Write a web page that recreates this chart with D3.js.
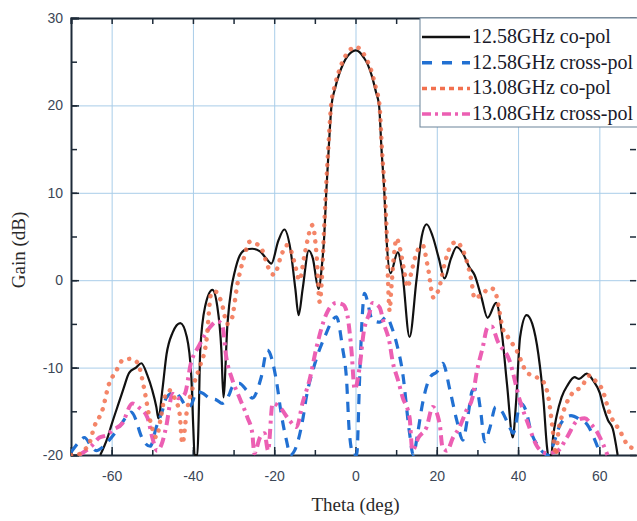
<!DOCTYPE html>
<html>
<head>
<meta charset="utf-8">
<script src="https://cdn.jsdelivr.net/npm/d3@7"></script>
<style>
  html, body { margin: 0; padding: 0; background: #fff; overflow: hidden; }
  svg { display: block; }
</style>
</head>
<body>
<svg id="chart" width="637" height="521"></svg>
<script>
// 12.58GHz co-pol (black solid)
const co1258Theta = [-62.8, -61, -60, -58, -57, -55.7, -54, -52.7, -51.2, -50, -49, -48.5, -47.5, -46.5, -45, -43.1, -41.5, -40.4, -39.9, -39.6,
  -38.9, -38.6, -38.2, -37, -35.2, -34, -33, -32.5, -31.5, -30.5, -29.8, -28.5, -27, -25.4, -23.5, -22, -20.7, -19, -17.5, -16,
  -14.8, -14, -13, -11.5, -10.5, -9.1, -8.3, -7.7, -7.2, -6.6, -5.9, -5, -4, -3, -2, -1, 0, 1, 2, 3,
  4, 5, 5.8, 6.4, 7.1, 7.6, 8.6, 10.4, 11.5, 13.3, 15, 16.3, 17.5, 19, 20.5, 21.9, 23.5, 24.9, 26.5, 28, 29.3,
  31, 32.5, 34.6, 36, 37.3, 38.7, 39.5, 40.5, 42.1, 43.5, 45, 46.3, 47.1, 47.4, 48.2, 48.6, 49.5, 50.7, 52.2, 53.9,
  55, 56.9, 58.5, 60.1, 61, 62.1, 63.3, 64.5];
const co1258Gain = [-20, -18, -16.5, -13.7, -12.3, -10.6, -10, -9.5, -10.9, -12.6, -14.5, -15.8, -12.5, -8.5, -6, -4.9, -6.5, -11, -17, -20,
  -20, -16, -8, -3, -1.1, -3, -8, -13.4, -5, -0.8, 0.8, 2.8, 3.5, 3.6, 3.3, 2.5, 1.9, 4.5, 5.8, 3.5,
  -1, -4, -1, 3.4, 2.5, -1, 1.5, 5, 10, 15, 20, 22, 23.6, 24.8, 25.6, 26.1, 26.3, 26.1, 25.5, 24.7,
  23.4, 21.6, 20, 15, 10, 5, 0.8, 3.2, 1, -6.5, 0, 5, 6.4, 5, 2.5, 0.2, 2.5, 3.8, 3, 1.5, 0.6,
  -2, -4.3, -2.6, -6, -12, -18, -14, -6.5, -4, -5, -8.5, -14, -19, -20, -20, -18, -15.5, -13.4, -12, -11.1,
  -11.3, -10.7, -11.5, -12.9, -14.5, -16, -17, -20];

// 12.58GHz cross-pol (blue dashed)
const cx1258Theta = [-70, -68, -66.7, -65, -63.8, -62, -60.6, -58.1, -56.2, -55.2, -54, -53, -52, -50.5, -49, -47.5, -46.6, -44.5, -43, -41.5,
  -40.5, -39, -37.7, -36, -34.2, -32.8, -31, -30.3, -28.6, -26.8, -25.4, -23.2, -21.7, -19.5, -18.3, -17, -16, -15, -13, -12.1,
  -10.1, -7.6, -4.7, -3.2, -2.2, -1.5, -0.5, 0.3, 1, 1.7, 2.2, 4.2, 6, 7.6, 9, 10.1, 11.6, 13.3, 14.2, 15.3,
  16.5, 18.5, 20, 21.5, 23.2, 24.9, 26.4, 27.6, 28.8, 29.8, 30.8, 31.8, 33, 34.5, 36, 37.9, 38.8, 40.6, 42, 43.1,
  45, 47.3, 48.5, 50.5, 53, 55.4, 57, 58.9, 60.3];
const cx1258Gain = [-19.7, -18.5, -18, -19, -19.5, -19, -18.3, -16.8, -15.5, -15.1, -16, -17.5, -18.5, -19, -16.8, -14.9, -13.5, -12.8, -13.5, -14.5,
  -14.3, -12.8, -12.9, -13.5, -13.7, -14.1, -13, -12.2, -11.8, -12.6, -13.5, -11.1, -8, -11.4, -15.2, -18.3, -20, -19.5, -16, -13.4,
  -9.7, -6.5, -4.2, -7.7, -11.4, -17.5, -20, -20, -11.4, -3.8, -1.5, -4.6, -4.8, -4.2, -5.5, -7.2, -10.6, -17.5, -20, -17.5,
  -14.1, -11, -10.5, -9.5, -12.5, -16, -18.3, -15.7, -12.6, -12.5, -15, -18.5, -17, -14.5, -15, -16.8, -17.5, -14.1, -15, -17.2,
  -19, -20, -19, -16.4, -15.5, -16, -16.5, -18.3, -20];

// 13.08GHz co-pol (orange dotted)
const co1308Theta = [-70, -68.5, -67, -65.5, -64.3, -62.3, -60.6, -59, -57.4, -55.5, -53.7, -52, -50.7, -50, -49, -48, -47, -45.8, -44.5, -43.3,
  -42.6, -41.5, -40, -38.4, -36.7, -35.5, -34.5, -33, -31.5, -30.5, -29, -27.5, -26, -24.5, -23, -21.5, -20, -18.5, -17, -16.3,
  -15, -13.8, -12.5, -11, -10.6, -9.6, -8.8, -8.3, -7.8, -7.3, -6.7, -6, -5, -4, -3, -2, -1, 0, 1, 2,
  3, 4, 5, 5.9, 6.5, 7.2, 7.7, 8, 8.4, 8.8, 9.5, 10.1, 11, 12, 12.8, 13.8, 15, 16.5, 17.8, 19.2,
  20.5, 22, 23.5, 24.9, 26, 27.3, 28.5, 29.3, 30.5, 31.4, 33, 34.2, 35.2, 36.2, 37.5, 39.6, 42.1, 44, 46, 47.5,
  48.5, 49.3, 50, 50.7, 52, 53.4, 55.6, 57.6, 59, 60.8, 62.5, 65, 67.5, 70];
const co1308Gain = [-20, -20, -19.5, -18.7, -16.8, -14.9, -11.8, -10.5, -9.2, -9, -9.4, -12.4, -15.7, -17, -18, -16, -13.5, -12.6, -13.5, -15.2,
  -18.7, -15, -12.2, -10, -7, -1.5, -1.3, -2.5, -5, -4.5, -0.3, 2.5, 4.4, 4.2, 3.5, 1.5, 0.6, 2.5, 4, 3.8,
  2, 0, 3, 6, 6.3, 3, -2.5, 0, 5, 10, 15, 20, 22.4, 24, 25.2, 26, 26.5, 26.7, 26.5, 25.9,
  25, 23.8, 22, 20, 15, 10, 5, 0, -3.5, -1, 3, 4.8, 3.5, 1, -0.8, 1, 3.1, 4, 1.5, -2,
  -1, 2, 4, 4.4, 3.8, 2.3, 0, -2.1, -1.8, -1.5, -0.9, -1.1, -3, -5.5, -6.5, -8, -10.5, -11, -11.5, -13.5,
  -17, -20, -17, -15.7, -14, -12.9, -12.2, -10.9, -11.5, -12.6, -15.2, -17.2, -19.1, -19.3];

// 13.08GHz cross-pol (pink dash-dot)
const cx1308Theta = [-68, -65, -63, -61, -59.9, -57.4, -54.9, -53.2, -51.2, -50, -48.8, -47.5, -46.6, -45, -43.5, -42, -40.5, -38.5, -36, -34,
  -32.8, -31.8, -30.3, -28.5, -26.6, -25.4, -24.9, -23.5, -22.4, -21.5, -20.4, -18.7, -16.3, -14.5, -13, -11.3, -9.6, -7.1, -4.7, -3,
  -2, -1, -0.2, 1, 2, 3.4, 4.2, 5.9, 7, 8.4, 9.1, 10.5, 11.6, 13.3, 14, 15.5, 17.5, 19, 20.7, 21.4,
  22.5, 24, 25.6, 27.3, 28.8, 29.8, 31.3, 32.5, 33.5, 35, 37.9, 40.4, 42.5, 44.8, 47, 49.8, 52, 54.7, 56.4, 58,
  59.6, 62];
const cx1308Gain = [-20, -19, -18, -17.7, -17.2, -16.4, -14.1, -14.6, -15.7, -18, -19.5, -18.5, -16.8, -13, -13.5, -13, -9.5, -7.5, -5.5, -4.7,
  -5.1, -8.8, -11.4, -13.5, -15.7, -17.5, -19.8, -18, -17.5, -19.5, -14.1, -14.5, -16, -16.8, -14, -11.4, -7.7, -3.8, -2.6, -2.8,
  -4, -8, -12.5, -10, -6, -3.8, -2.6, -3.1, -5, -7.2, -9.2, -11.5, -13.4, -15.7, -19.5, -18, -16.8, -14.5, -16.4, -19.1,
  -19.5, -18, -16.8, -14.9, -13.4, -10.6, -7.7, -5.4, -5.3, -7, -9.2, -13.7, -16.5, -19.1, -19.8, -19.5, -18, -16, -15.8, -16.5,
  -17.5, -20];

const xTicks = [-60, -40, -20, 0, 20, 40, 60];
const yTicks = [-20, -10, 0, 10, 20, 30];
const legendLabels = ["12.58GHz co-pol", "12.58GHz cross-pol", "13.08GHz co-pol", "13.08GHz cross-pol"];

const svg = d3.select("#chart");
const plotLeft = 71, plotRight = 640, plotTop = 18, plotBottom = 455;

const x = d3.scaleLinear().domain([-70, 70]).range([plotLeft, plotRight]);
const y = d3.scaleLinear().domain([-20, 30]).range([plotBottom, plotTop]);

svg.append("defs").append("clipPath").attr("id", "plotClip")
  .append("rect").attr("x", plotLeft).attr("y", plotTop - 2).attr("width", plotRight - plotLeft).attr("height", plotBottom - plotTop + 3);

// grid
const grid = svg.append("g").attr("stroke", "#a9cde9").attr("stroke-width", 1);
grid.selectAll(".gx").data(xTicks).enter().append("line")
  .attr("x1", d => x(d) + 0.5).attr("x2", d => x(d) + 0.5).attr("y1", plotTop).attr("y2", plotBottom);
grid.selectAll(".gy").data([-10, 0, 10, 20]).enter().append("line")
  .attr("x1", plotLeft).attr("x2", plotRight).attr("y1", d => y(d) + 0.5).attr("y2", d => y(d) + 0.5);

// axes, ticks point into the plot
const axisColor = "#1d2a38";
const xMinor = d3.range(-70, 71, 10);
const yMinor = d3.range(-20, 31, 5);
const plainFormat = d => String(d);

svg.append("g").attr("transform", `translate(0,${plotBottom})`)
  .call(d3.axisBottom(x).tickValues(xMinor).tickSize(-5).tickFormat(""))
  .call(g => g.select(".domain").remove());
svg.append("g").attr("transform", `translate(0,${plotBottom})`)
  .call(d3.axisBottom(x).tickValues(xTicks).tickSize(-8).tickPadding(16).tickFormat(plainFormat))
  .call(g => g.select(".domain").attr("stroke-width", 2));
svg.append("g").attr("transform", `translate(0,${plotTop})`)
  .call(d3.axisTop(x).tickValues(xMinor).tickSize(-6).tickFormat(""))
  .call(g => g.select(".domain").attr("stroke-width", 2));
svg.append("g").attr("transform", `translate(${plotLeft},0)`)
  .call(d3.axisLeft(y).tickValues(yMinor).tickSize(-6).tickFormat(""))
  .call(g => g.select(".domain").remove());
svg.append("g").attr("transform", `translate(${plotLeft},0)`)
  .call(d3.axisLeft(y).tickValues(yTicks).tickSize(-8).tickPadding(8).tickFormat(plainFormat))
  .call(g => g.select(".domain").attr("stroke-width", 2));
svg.append("g").attr("transform", `translate(${plotRight - 4},0)`)
  .call(d3.axisRight(y).tickValues(yMinor).tickSize(-6).tickFormat(""))
  .call(g => g.select(".domain").remove());

svg.selectAll(".tick line").attr("stroke", axisColor).attr("stroke-width", 1.5);
svg.selectAll(".domain").attr("stroke", axisColor);
svg.selectAll(".tick text")
  .attr("fill", "#3b4656")
  .style("font-family", "'Liberation Sans', Arial, sans-serif")
  .style("font-size", "14px");

// axis titles
svg.append("text")
  .attr("x", x(0)).attr("y", 511)
  .attr("text-anchor", "middle")
  .style("font-family", "'Liberation Serif', 'Times New Roman', serif")
  .style("font-size", "19px").attr("fill", "#2a2a2a")
  .text("Theta (deg)");
svg.append("text")
  .attr("transform", `translate(25,${250}) rotate(-90)`)
  .attr("text-anchor", "middle")
  .style("font-family", "'Liberation Serif', 'Times New Roman', serif")
  .style("font-size", "19px").attr("fill", "#2a2a2a")
  .text("Gain (dB)");

// curves
const series = [
  {theta: co1258Theta, gain: co1258Gain, color: "#111111", width: 2.2, dash: null, cap: "butt"},
  {theta: cx1258Theta, gain: cx1258Gain, color: "#2170d2", width: 3.2, dash: "10,8", cap: "butt"},
  {theta: cx1308Theta, gain: cx1308Gain, color: "#ec5fb3", width: 4, dash: "10,5,3,5", cap: "butt"},
  {theta: co1308Theta, gain: co1308Gain, color: "#f2704e", width: 4.5, dash: "0.1,8.5", cap: "round"}
];

const line = d3.line()
  .x(d => x(d[0]))
  .y(d => y(d[1]))
  .curve(d3.curveMonotoneX);

const plot = svg.append("g").attr("clip-path", "url(#plotClip)");
// orange dots sit on top of the black line
series.forEach((s, i) => {
  plot.append("path")
    .datum(s.theta.map((t, j) => [t, s.gain[j]]))
    .attr("d", line)
    .attr("fill", "none")
    .attr("stroke", s.color)
    .attr("stroke-width", s.width)
    .attr("stroke-linecap", s.cap)
    .attr("stroke-dasharray", s.dash)
    .attr("opacity", i === 3 ? 0.85 : 1);
});

// legend
const legendX = 420, legendY = 18;
const legend = svg.append("g");
legend.append("rect")
  .attr("x", legendX).attr("y", legendY)
  .attr("width", 240).attr("height", 109)
  .attr("fill", "#fff").attr("stroke", "#6b8399").attr("stroke-width", 1);

const legendSeries = [series[0], series[1], series[3], series[2]];
const legendDash = [null, "10,10", "5,4", "9,4,3,4"];
legend.selectAll(".entry").data(legendSeries.map((s, i) => ({s: s, label: legendLabels[i], dash: legendDash[i]})))
  .enter().append("g")
  .attr("transform", (d, i) => `translate(${legendX},${legendY + 19 + i * 25.7})`)
  .each(function(d) {
    const g = d3.select(this);
    g.append("line")
      .attr("x1", 2).attr("x2", 50).attr("y1", 0).attr("y2", 0)
      .attr("stroke", d.s.color)
      .attr("stroke-width", d.s.width > 3 ? 3.5 : d.s.width + 0.5)
      .attr("stroke-dasharray", d.dash);
    g.append("text")
      .attr("x", 52).attr("y", 6)
      .style("font-family", "'Liberation Serif', 'Times New Roman', serif")
      .style("font-size", "20px").attr("fill", "#1a1a2a")
      .text(d.label);
  });
</script>
</body>
</html>
